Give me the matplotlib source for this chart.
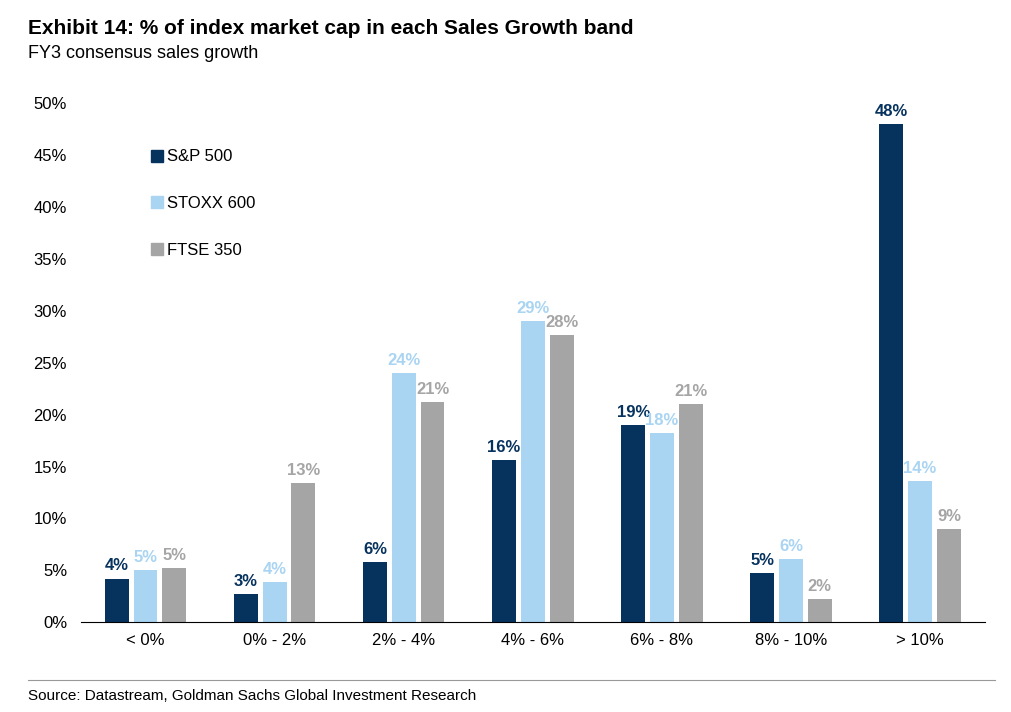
import matplotlib
matplotlib.use("Agg")
import matplotlib.pyplot as plt
import numpy as np
from matplotlib.lines import Line2D

categories = ["< 0%", "0% - 2%", "2% - 4%", "4% - 6%", "6% - 8%", "8% - 10%", "> 10%"]
sp500 = [4.2, 2.7, 5.8, 15.6, 19.0, 4.7, 48.0]
stoxx600 = [5.0, 3.9, 24.0, 29.0, 18.2, 6.1, 13.6]
ftse350 = [5.2, 13.4, 21.2, 27.7, 21.0, 2.2, 9.0]
series = [("S&P 500", sp500, "#06325e"), ("STOXX 600", stoxx600, "#a9d4f2"), ("FTSE 350", ftse350, "#a5a5a5")]

fig = plt.figure(figsize=(10.12, 7.12), dpi=100)
ax = fig.add_axes([0.08, 0.126, 0.893, 0.729])
x = np.arange(len(categories))
w = 0.185
off = 0.223
for i, (name, vals, col) in enumerate(series):
    pos = x + (i - 1) * off
    ax.bar(pos, vals, width=w, color=col, label=name)
    for p, v in zip(pos, vals):
        ax.text(p, v + 0.5, f"{round(v):.0f}%", ha="center", va="bottom",
                color=col, fontsize=12, fontweight="bold", family="Liberation Sans")

ax.set_ylim(0, 50)
ax.set_xlim(-0.5, len(categories) - 0.5)
ax.set_yticks(range(0, 51, 5))
ax.set_yticklabels([f"{t}%" for t in range(0, 51, 5)], family="Liberation Sans", fontsize=12)
ax.set_xticks(x)
ax.set_xticklabels(categories, family="Liberation Sans", fontsize=12)
for s in ["top", "right", "left"]:
    ax.spines[s].set_visible(False)
ax.spines["bottom"].set_color("#000000")
ax.tick_params(axis="y", length=0, pad=10)
ax.tick_params(axis="x", length=0, pad=8)

handles = [Line2D([0], [0], marker="s", linestyle="", markersize=8, color=c) for _, _, c in series]
ax.legend(handles, [n for n, _, _ in series], loc="upper left", bbox_to_anchor=(0.06, 0.94),
          frameon=False, labelspacing=1.9, handletextpad=0.2, handlelength=0.8,
          prop={"family": "Liberation Sans", "size": 12})

fig.text(0.028, 0.96, "Exhibit 14: % of index market cap in each Sales Growth band",
         fontsize=15, fontweight="bold", family="Liberation Sans", va="center")
fig.text(0.028, 0.925, "FY3 consensus sales growth", fontsize=13, family="Liberation Sans", va="center")
fig.add_artist(Line2D([0.028, 0.983], [0.045, 0.045], color="#999999", lw=0.8))
fig.text(0.028, 0.022, "Source: Datastream, Goldman Sachs Global Investment Research",
         fontsize=11, family="Liberation Sans", va="center")
fig.savefig("out.png", dpi=100)
